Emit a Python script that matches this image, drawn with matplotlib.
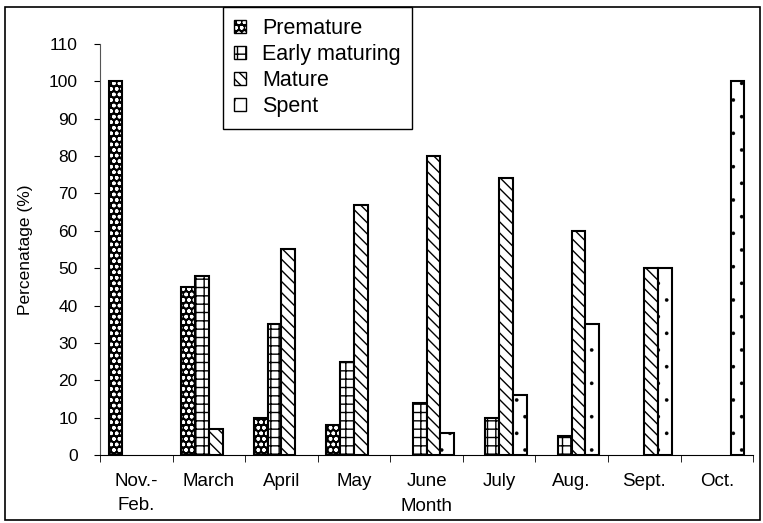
import matplotlib.pyplot as plt
import numpy as np
from matplotlib.patches import Patch, Rectangle
from matplotlib.legend_handler import HandlerTuple

plt.rcParams['font.family'] = ['Liberation Sans', 'DejaVu Sans']
plt.rcParams['hatch.linewidth'] = 1.0

months = ['Nov.-\nFeb.', 'March', 'April', 'May', 'June', 'July', 'Aug.', 'Sept.', 'Oct.']
premature = [100, 45, 10, 8, 0, 0, 0, 0, 0]
early_maturing = [0, 48, 35, 25, 14, 10, 5, 0, 0]
mature = [0, 7, 55, 67, 80, 74, 60, 50, 0]
spent = [0, 0, 0, 0, 6, 16, 35, 50, 100]

fig = plt.figure(figsize=(7.63, 5.23), dpi=100)
ax = fig.add_axes([0.131, 0.130, 0.856, 0.786])

x = np.arange(len(months))
w = 0.19


def nz(vals, off):
    # only bars with a value, so no flat marks sit on the axis
    v = np.array(vals, dtype=float)
    m = v > 0
    return x[m] + off * w, v[m]


px, pv = nz(premature, -1.5)
ax.bar(px, pv, w, color='black', hatch='ooo', edgecolor='white', linewidth=0)
ax.bar(px, pv, w, fill=False, edgecolor='black', linewidth=1.5)
ex, ev = nz(early_maturing, -0.5)
ax.bar(ex, ev, w, color='white', hatch='++', edgecolor='black', linewidth=1.5)
mx, mv = nz(mature, 0.5)
ax.bar(mx, mv, w, color='white', hatch='\\\\\\', edgecolor='black', linewidth=1.5)
sx, sv = nz(spent, 1.5)
with plt.rc_context({'hatch.linewidth': 0.2}):
    ax.bar(sx, sv, w, color='white', hatch='.', edgecolor='black', linewidth=1.5)

ax.set_xlim(-0.5, len(months) - 0.5)
ax.set_ylim(0, 110)
ax.set_yticks(range(0, 111, 10))
ax.set_xticks(x)
ax.set_xticklabels(months, linespacing=1.5)
ax.set_xticks(np.arange(-0.5, len(months), 1), minor=True)
ax.tick_params(axis='x', which='major', length=0, pad=13, labelsize=13.5)
ax.tick_params(axis='x', which='minor', length=5, direction='out')
ax.tick_params(axis='y', length=4, direction='out', labelsize=12.5, pad=12)
for s in ['top', 'right']:
    ax.spines[s].set_visible(False)
ax.spines['left'].set_color('#555555')

ax.set_ylabel('Percenatage (%)', fontsize=12.5, labelpad=11)
ax.set_xlabel('Month', fontsize=13.5)
ax.xaxis.set_label_coords(0.5, -0.105)

# legend proxies
h_pre = (Patch(facecolor='black', hatch='ooo', edgecolor='white', linewidth=0),
         Patch(fill=False, edgecolor='black', linewidth=1.0))
h_early = Patch(facecolor='white', hatch='++', edgecolor='black', linewidth=1.0)
h_mat = Patch(facecolor='white', hatch='\\\\\\', edgecolor='black', linewidth=1.0)
with plt.rc_context({'hatch.linewidth': 0.2}):
    h_spent = Patch(facecolor='white', hatch='.', edgecolor='black', linewidth=1.0)
leg = fig.legend([h_pre, h_early, h_mat, h_spent],
                 ['Premature', 'Early maturing', 'Mature', 'Spent'],
                 handler_map={tuple: HandlerTuple(ndivide=1, pad=0)},
                 loc='upper left', bbox_to_anchor=(0.292, 0.987),
                 fontsize=15.5, handlelength=0.55, handleheight=0.55,
                 handletextpad=0.75, labelspacing=0.24, borderpad=0.5,
                 borderaxespad=0, fancybox=False, framealpha=1, edgecolor='black')
leg._legend_box.pad = 8
leg.get_frame().set_linewidth(1.0)

# outer frame round the whole picture
fig.patches.append(Rectangle((0.006, 0.005), 0.99, 0.982, transform=fig.transFigure,
                             fill=False, edgecolor='black', linewidth=1.2))

fig.savefig('out.png', dpi=100)
